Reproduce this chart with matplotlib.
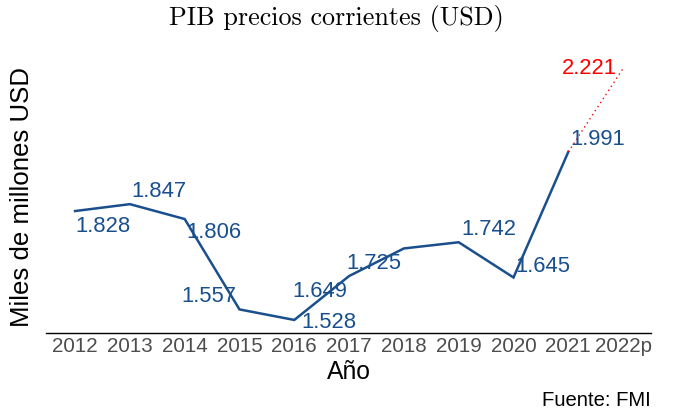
import matplotlib
matplotlib.use('Agg')
import matplotlib.pyplot as plt

plt.rcParams['font.family'] = ['Liberation Sans', 'DejaVu Sans']

# datos del PIB (miles de millones USD)
years = ['2012', '2013', '2014', '2015', '2016', '2017', '2018', '2019', '2020', '2021', '2022p']
pib = [1828, 1847, 1806, 1557, 1528, 1649, 1725, 1742, 1645, 1991]
pib_proj = [1991, 2221]
labels = ['1.828', '1.847', '1.806', '1.557', '1.528', '1.649', '1.725', '1.742', '1.645', '1.991']
label_proj = '2.221'

# desplazamiento de etiquetas (puntos)
offsets = [(20, -11), (21, 9), (21, -9.5), (-22, 9), (25, -1.5), (-21, -11),
           (-21.5, -11), (21.5, 9), (21, 8), (21, 9)]

blue = '#1a4f8e'

fig = plt.figure(figsize=(6.73, 4.12), dpi=100)
ax = fig.add_axes([0.0684, 0.1917, 0.899, 0.6626])

x = list(range(len(pib)))
ax.plot(x, pib, color=blue, lw=1.8, solid_joinstyle='miter')
ax.plot([9, 10], pib_proj, color='red', lw=1.0, ls=(0, (1, 2.5)))

for xi, yi, lab, off in zip(x, pib, labels, offsets):
    ax.annotate(lab, (xi, yi), xytext=off, textcoords='offset points',
                ha='center', va='center', color=blue, fontsize=15.8)
ax.annotate(label_proj, (10, pib_proj[1]), xytext=(-24, 0), textcoords='offset points',
            ha='center', va='center', color='red', fontsize=15.8)

ax.set_xlim(-0.53, 10.51)
ax.set_ylim(1492, 2244)
ax.set_xticks(range(len(years)))
ax.set_xticklabels(years, color='#4d4d4d', fontsize=14.8)
ax.set_yticks([])
ax.tick_params(axis='x', length=0, pad=3)
for s in ['top', 'right', 'left']:
    ax.spines[s].set_visible(False)
ax.spines['bottom'].set_linewidth(1.0)

ax.set_xlabel('Año', fontsize=17.8, va='center')
ax.xaxis.set_label_coords(0.5, -0.143)
ax.set_ylabel('Miles de millones USD', fontsize=18.6, va='center')
ax.yaxis.set_label_coords(-0.040, 0.5)
fig.text(0.5, 0.956, 'PIB precios corrientes (USD)', family='cmr10', fontsize=18.8,
         ha='center', va='center')
fig.text(0.967, 0.029, 'Fuente: FMI', ha='right', va='center', fontsize=14.6)

fig.savefig('out.png', dpi=100)
